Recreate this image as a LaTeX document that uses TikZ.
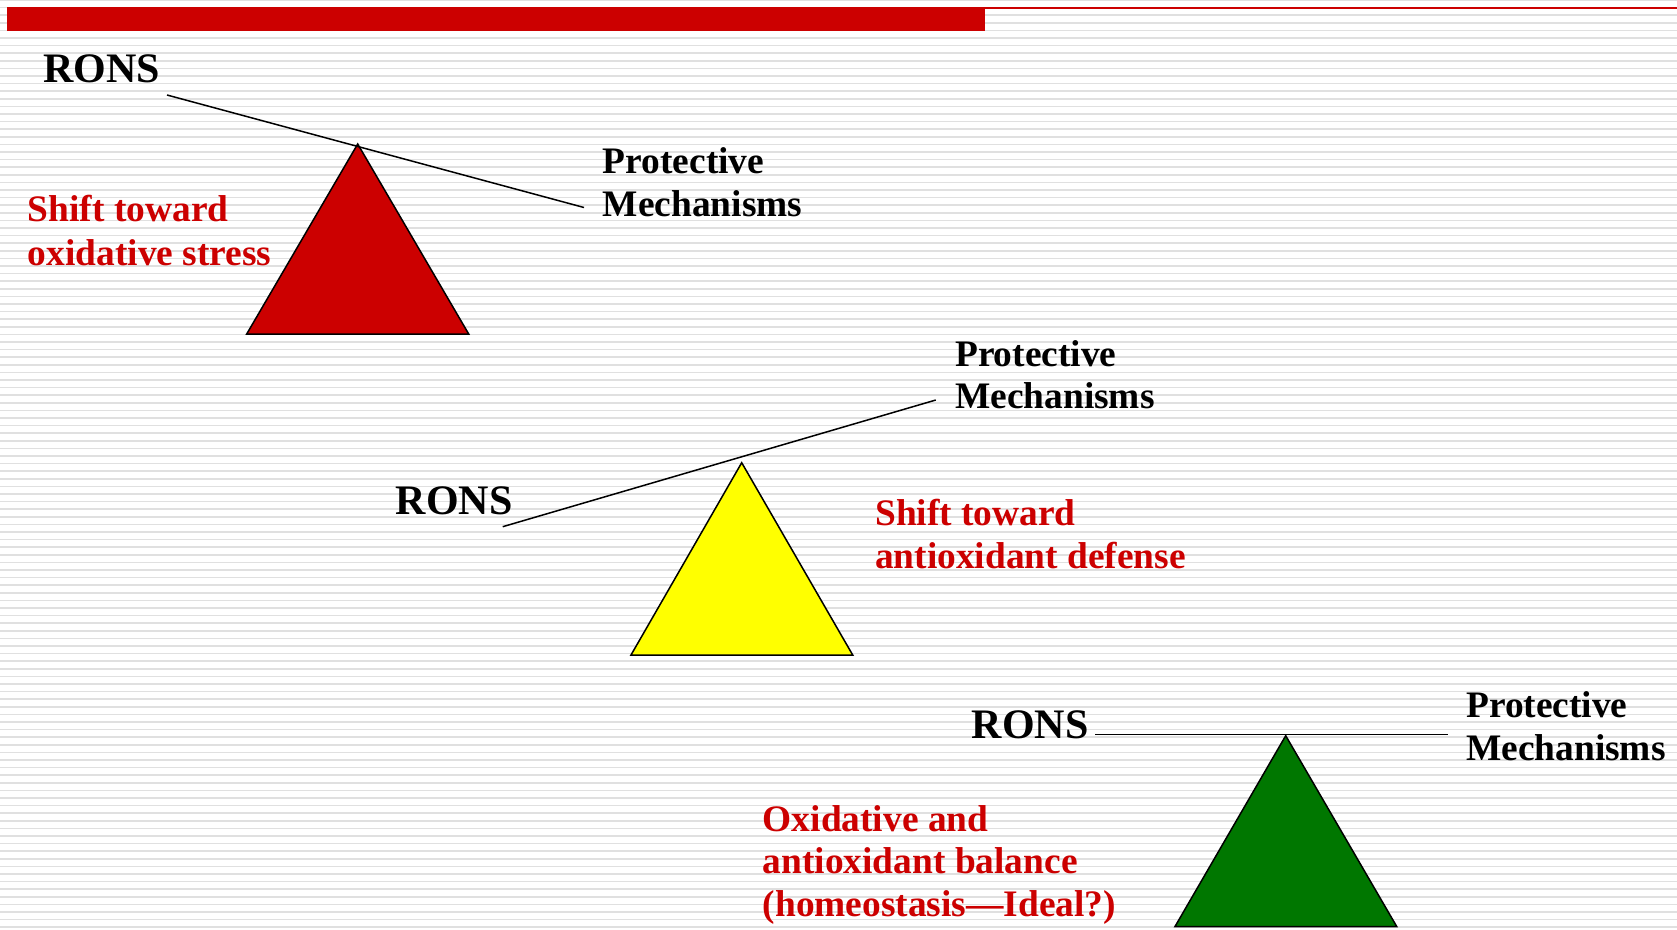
\documentclass[tikz,border=0pt]{standalone}
\usepackage{fontspec}
\setmainfont{Liberation Serif}
\definecolor{slidered}{RGB}{204,0,0}
\definecolor{stripecol}{RGB}{224,224,224}
\definecolor{trigreen}{RGB}{0,119,0}
\definecolor{triyellow}{RGB}{255,255,0}
\begin{document}
\begin{tikzpicture}[x=1pt,y=-1pt,
  lbl/.style={anchor=base west,inner sep=0pt,font=\fontsize{37.4}{42}\selectfont\bfseries},
  redlbl/.style={lbl,text=slidered},
  ronslbl/.style={anchor=base west,inner sep=0pt,font=\fontsize{42}{48}\selectfont\bfseries},
  beam/.style={line width=1.5pt,draw=black},
  fulcrum/.style={draw=black,line width=1.5pt,line join=miter}]
\useasboundingbox (0,0) rectangle (1677,929);
\fill[white] (0,0) rectangle (1677,929);
\foreach \k in {0,...,122} \draw[stripecol,line width=1.7pt] (0,7.6*\k) -- (1677,7.6*\k);
% top bar
\fill[slidered] (7,7) rectangle (985,31);
\fill[slidered] (985,6.7) rectangle (1677,8.7);
% fulcrums
\filldraw[fulcrum,fill=slidered] (357.7,144) -- (468.7,334) -- (246.7,334) -- cycle;
\filldraw[fulcrum,fill=triyellow] (741.7,462.7) -- (852.7,655) -- (631,655) -- cycle;
\filldraw[fulcrum,fill=trigreen] (1285.7,735.7) -- (1396.7,926.5) -- (1175,926.5) -- cycle;
% beams
\coordinate (b1l) at (167,95);
\coordinate (b1r) at (584,207.5);
\coordinate (b2l) at (502.7,526.7);
\coordinate (b2r) at (935.8,400);
\coordinate (b3l) at (1095,734.3);
\coordinate (b3r) at (1447.7,734.3);
\draw[beam] (b1l) -- (b1r);
\draw[beam] (b2l) -- (b2r);
\draw[beam] (b3l) -- (b3r);
% labels
\node[ronslbl] (r1) at (43,82.3) {RONS};
\node[ronslbl] (r2) at (395.7,514.5) {RONS};
\node[ronslbl] (r3) at (971.7,738.3) {RONS};
\node[lbl] (p1a) at (602.7,173.3) {Protective};
\node[lbl] (p1b) at (602.7,216) {Mechanisms};
\node[lbl] (p2a) at (955,366) {Protective};
\node[lbl] (p2b) at (955,408.3) {Mechanisms};
\node[lbl] (p3a) at (1466,717.6) {Protective};
\node[lbl] (p3b) at (1466,760.4) {Mechanisms};
\node[redlbl] (s1a) at (27.7,221) {Shift toward};
\node[redlbl] (s1b) at (27.7,265) {oxidative stress};
\node[redlbl] (s2a) at (875,525) {Shift toward};
\node[redlbl] (s2b) at (875,568.3) {antioxidant defense};
\node[redlbl] (s3a) at (762.6,831) {Oxidative and};
\node[redlbl] (s3b) at (762.6,873.5) {antioxidant balance};
\node[redlbl] (s3c) at (762.6,916.5) {(homeostasis—Ideal?)};
\end{tikzpicture}
\end{document}
